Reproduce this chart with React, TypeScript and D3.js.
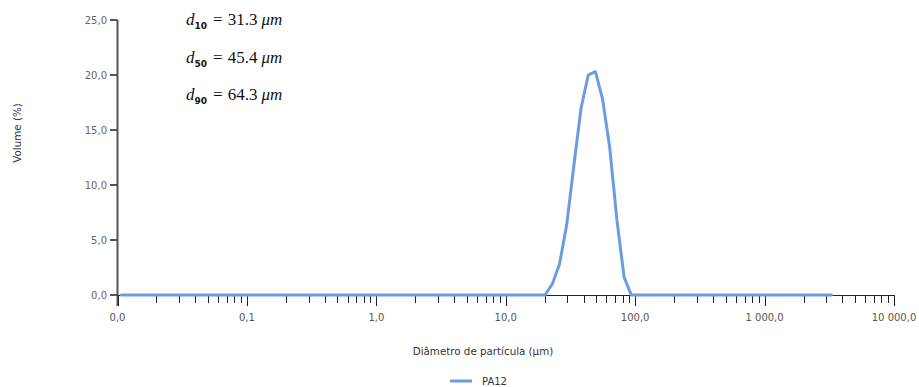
import React from "react";
import * as d3 from "d3";

const sizes = [0.0107, 20.1, 22.9, 26.0, 29.6, 33.6, 38.2, 43.4, 49.3, 56.0, 63.6, 72.3, 82.2, 93.4, 3283];
const volume = [0, 0, 1.0, 2.8, 6.4, 11.8, 17.0, 20.0, 20.3, 17.8, 13.4, 6.8, 1.6, 0, 0];
const yTicks = [0, 5, 10, 15, 20, 25];
const yTickLabels = ["0,0", "5,0", "10,0", "15,0", "20,0", "25,0"];
const xMajor = [0.01, 0.1, 1, 10, 100, 1000, 10000];
const xMajorLabels = ["0,0", "0,1", "1,0", "10,0", "100,0", "1 000,0", "10 000,0"];
const annotations = [
  { sub: "10", value: "31.3" },
  { sub: "50", value: "45.4" },
  { sub: "90", value: "64.3" },
];
const seriesName = "PA12";

export default function App() {
  const W = 919, H = 387;
  const x = d3.scaleLog().domain([0.01, 10000]).range([117.5, 894]);
  const y = d3.scaleLinear().domain([0, 25]).range([295, 20]);
  const line = d3.line<number>().x((_, i) => x(sizes[i])).y((d) => y(d));
  const minor: number[] = [];
  for (let e = -2; e < 4; e++) {
    for (let m = 2; m <= 9; m++) minor.push(m * Math.pow(10, e));
  }
  const axisColor = "#555";
  const font = "'DejaVu Sans', sans-serif";
  return (
    <svg width={W} height={H} style={{ position: "absolute", left: 0, top: 0, background: "#fff" }}>
      {/* y axis */}
      <line x1={117.5} x2={117.5} y1={y(25)} y2={306} stroke={axisColor} strokeWidth={2} />
      {yTicks.map((t, i) => (
        <g key={t}>
          <line x1={110} x2={117.5} y1={y(t)} y2={y(t)} stroke={axisColor} strokeWidth={2} />
          <text x={107} y={y(t)} dy="0.35em" textAnchor="end" fontSize={10} fill="#666" fontFamily={font}>
            {yTickLabels[i]}
          </text>
        </g>
      ))}
      {/* x axis */}
      <line x1={117.5} x2={894} y1={295.5} y2={295.5} stroke="#222" strokeWidth={1} />
      {minor.map((t) => (
        <line key={"m" + t} x1={Math.round(x(t)) + 0.5} x2={Math.round(x(t)) + 0.5} y1={295} y2={303} stroke="#222" strokeWidth={1} />
      ))}
      {xMajor.map((t, i) => (
        <g key={"M" + t}>
          <line x1={Math.round(x(t)) + 0.5} x2={Math.round(x(t)) + 0.5} y1={295} y2={306} stroke="#222" strokeWidth={1} />
          <text x={x(t)} y={317} dy="0.35em" textAnchor="middle" fontSize={10} fill="#555" fontFamily={font}>
            {xMajorLabels[i]}
          </text>
        </g>
      ))}
      {/* series */}
      <path d={line(volume) || ""} fill="none" stroke="#6a9de0" strokeWidth={3} strokeLinejoin="round" strokeLinecap="round" />
      {/* axis titles */}
      <text x={483} y={351} dy="0.35em" textAnchor="middle" fontSize={10.3} fill="#333" fontFamily={font}>
        Diâmetro de partícula (µm)
      </text>
      <text transform="translate(17,133) rotate(-90)" dy="0.35em" textAnchor="middle" fontSize={10.3} fill="#333" fontFamily={font}>
        Volume (%)
      </text>
      {/* legend */}
      <line x1={450} x2={472} y1={381} y2={381} stroke="#6a9de0" strokeWidth={3} />
      <text x={482} y={381} dy="0.35em" fontSize={10} fill="#333" fontFamily={font}>
        {seriesName}
      </text>
      {/* annotations */}
      {annotations.map((a, i) => (
        <text key={a.sub} x={186} y={25 + i * 37.5} fontSize={17} fill="#111" fontFamily="'Liberation Serif', serif">
          <tspan fontStyle="italic">d</tspan>
          <tspan fontSize={9} dy={4} fontFamily="'DejaVu Sans', sans-serif" fontWeight="bold">{a.sub}</tspan>
          <tspan dy={-4} dx={6}>=</tspan>
          <tspan dx={5}>{a.value}</tspan>
          <tspan dx={4} fontStyle="italic">μm</tspan>
        </text>
      ))}
    </svg>
  );
}
